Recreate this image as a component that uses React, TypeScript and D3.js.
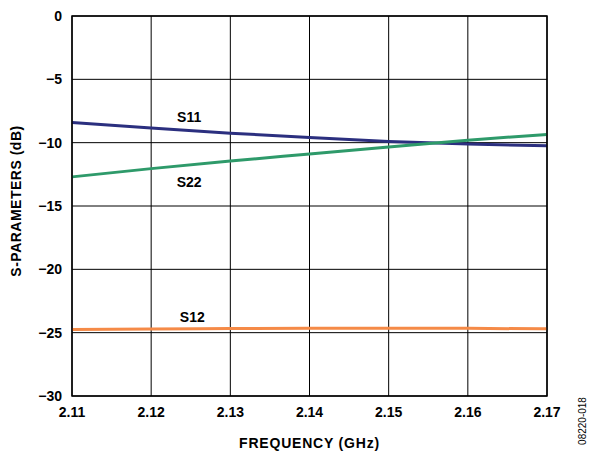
import React from "react";
import * as d3 from "d3";

const freqs = [2.11, 2.12, 2.13, 2.14, 2.15, 2.16, 2.17];
const s11 = [-8.4, -8.85, -9.25, -9.6, -9.9, -10.1, -10.25];
const s22 = [-12.7, -12.05, -11.45, -10.9, -10.35, -9.8, -9.35];
const s12 = [-24.75, -24.72, -24.68, -24.66, -24.65, -24.66, -24.7];
const xTicks = [2.11, 2.12, 2.13, 2.14, 2.15, 2.16, 2.17];
const yTicks = [0, -5, -10, -15, -20, -25, -30];

const W = 593, H = 452;
const L = 72, R = 547, T = 16, B = 396;

export default function App() {
  const x = d3.scaleLinear().domain([2.11, 2.17]).range([L, R]);
  const y = d3.scaleLinear().domain([-30, 0]).range([B, T]);
  const line = d3.line<number>().x((_, i) => x(freqs[i])).y((d) => y(d)).curve(d3.curveMonotoneX);
  const font = "Arial, 'Liberation Sans', sans-serif";
  const series = [
    { name: "S11", vals: s11, color: "#2b2f7f", lx: 2.1248, ly: -7.95 },
    { name: "S22", vals: s22, color: "#2e9a6a", lx: 2.1248, ly: -13.1 },
    { name: "S12", vals: s12, color: "#f58a47", lx: 2.1252, ly: -23.8 },
  ];
  return (
    <svg width={W} height={H} style={{ position: "absolute", left: 0, top: 0, background: "#fff" }} fontFamily={font}>
      {xTicks.map((t) => (
        <line key={"gx" + t} x1={x(t)} x2={x(t)} y1={T} y2={B} stroke="#000" strokeWidth={1} />
      ))}
      {yTicks.map((t) => (
        <line key={"gy" + t} x1={L} x2={R} y1={y(t)} y2={y(t)} stroke="#000" strokeWidth={1} />
      ))}
      {series.map((s) => (
        <path key={s.name} d={line(s.vals) || ""} fill="none" stroke={s.color} strokeWidth={3} />
      ))}
      <rect x={L} y={T} width={R - L} height={B - T} fill="none" stroke="#000" strokeWidth={1.5} />
      {series.map((s) => (
        <text key={"l" + s.name} x={x(s.lx)} y={y(s.ly)} textAnchor="middle" dominantBaseline="central" fontSize={14} fontWeight="bold">
          {s.name}
        </text>
      ))}
      {yTicks.map((t) => (
        <text key={"ty" + t} x={62} y={y(t)} textAnchor="end" dominantBaseline="central" fontSize={14} fontWeight="bold">
          {t < 0 ? "\u2212" + Math.abs(t) : String(t)}
        </text>
      ))}
      {xTicks.map((t) => (
        <text key={"tx" + t} x={x(t)} y={412} textAnchor="middle" dominantBaseline="central" fontSize={14} fontWeight="bold">
          {t.toFixed(2)}
        </text>
      ))}
      <text x={(L + R) / 2} y={443} textAnchor="middle" dominantBaseline="central" fontSize={14} fontWeight="bold" letterSpacing={0.8}>
        FREQUENCY (GHz)
      </text>
      <text transform={`translate(16,201) rotate(-90)`} textAnchor="middle" dominantBaseline="central" fontSize={14} fontWeight="bold" letterSpacing={0.5}>
        S-PARAMETERS (dB)
      </text>
      <text transform={`translate(582,421) rotate(-90)`} textAnchor="middle" dominantBaseline="central" fontSize={10}>
        08220-018
      </text>
    </svg>
  );
}
